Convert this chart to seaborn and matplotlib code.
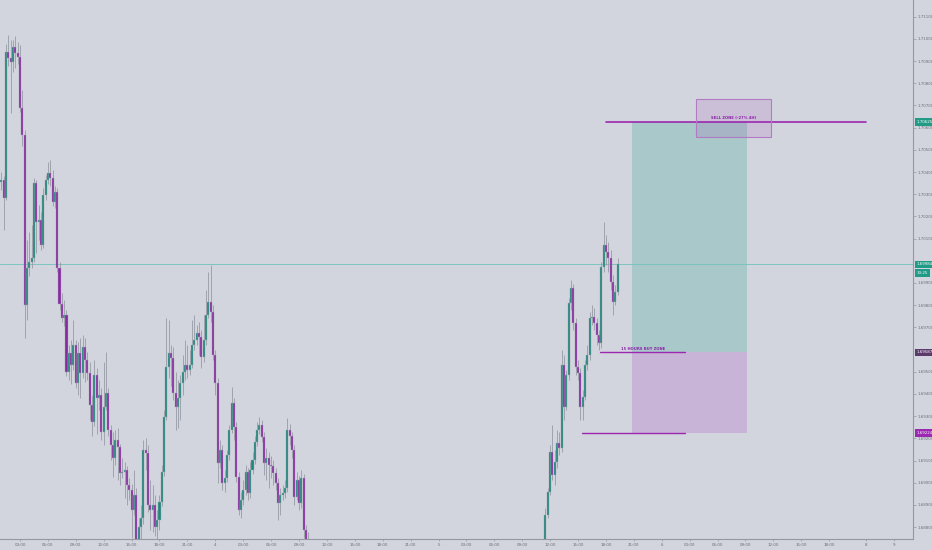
import numpy as np
import pandas as pd
import matplotlib
matplotlib.use("Agg")
import matplotlib.pyplot as plt
import seaborn as sns
from matplotlib.patches import Rectangle
from matplotlib.transforms import blended_transform_factory

# ---------------- data (15-minute candles, hours since day-3 00:00) ----------------
seg1_start_hour = 1.0
seg1_first_open = 1.70355
seg1_close = [
    1.70364, 1.70283, 1.70941, 1.70914, 1.70895, 1.70963, 1.70936, 1.70918, 1.70688, 1.70567,
    1.69801, 1.69968, 1.69995, 1.70013, 1.70350, 1.70175, 1.70184, 1.70071, 1.70296, 1.70364,
    1.70395, 1.70373, 1.70265, 1.70310, 1.69968, 1.69805, 1.69742, 1.69756, 1.69499, 1.69585,
    1.69531, 1.69621, 1.69450, 1.69585, 1.69495, 1.69612, 1.69553, 1.69495, 1.69350, 1.69274,
    1.69486, 1.69382, 1.69395, 1.69229, 1.69341, 1.69405, 1.69238, 1.69170, 1.69112, 1.69193,
    1.69161, 1.69044, 1.69049, 1.69058, 1.68990, 1.68968, 1.68877, 1.68945, 1.68742, 1.68801,
    1.68841, 1.69148, 1.69134, 1.68900, 1.68877, 1.68900, 1.68801, 1.68832, 1.68914, 1.69049,
    1.69296, 1.69522, 1.69585, 1.69562, 1.69405, 1.69341, 1.69382, 1.69450, 1.69499, 1.69531,
    1.69508, 1.69531, 1.69621, 1.69643, 1.69675, 1.69657, 1.69567, 1.69643, 1.69756, 1.69814,
    1.69769, 1.69576, 1.69450, 1.69089, 1.69148, 1.68999, 1.69022, 1.69125, 1.69238, 1.69359,
    1.69251, 1.69026, 1.68877, 1.68923, 1.68968, 1.69049, 1.68954, 1.69058, 1.69103, 1.69184,
    1.69238, 1.69260, 1.69206, 1.69089, 1.69112, 1.69080, 1.69076, 1.69044, 1.68999, 1.68909,
    1.68945, 1.68954, 1.68977, 1.69238, 1.69211, 1.69148, 1.68936, 1.69013, 1.68909, 1.69022,
    1.68787, 1.68742, 1.68706]
seg1_high = [
    1.70400, 1.70382, 1.70977, 1.71017, 1.70995, 1.70995, 1.71013, 1.70986, 1.70972, 1.70769,
    1.70589, 1.70094, 1.70130, 1.70161, 1.70373, 1.70364, 1.70251, 1.70220, 1.70328, 1.70386,
    1.70445, 1.70454, 1.70409, 1.70337, 1.70328, 1.69995, 1.69855, 1.69823, 1.69778, 1.69621,
    1.69643, 1.69733, 1.69643, 1.69634, 1.69652, 1.69666, 1.69652, 1.69589, 1.69544, 1.69395,
    1.69553, 1.69517, 1.69463, 1.69427, 1.69544, 1.69589, 1.69427, 1.69260, 1.69229, 1.69238,
    1.69247, 1.69175, 1.69112, 1.69094, 1.69076, 1.69022, 1.68995, 1.69058, 1.68977, 1.68841,
    1.68900, 1.69193, 1.69202, 1.69170, 1.69013, 1.68990, 1.68945, 1.68877, 1.68945, 1.69080,
    1.69328, 1.69742, 1.69733, 1.69621, 1.69612, 1.69499, 1.69463, 1.69486, 1.69576, 1.69643,
    1.69621, 1.69598, 1.69733, 1.69756, 1.69711, 1.69724, 1.69688, 1.69756, 1.69868, 1.69950,
    1.69981, 1.69801, 1.69598, 1.69472, 1.69193, 1.69170, 1.69058, 1.69148, 1.69260, 1.69432,
    1.69382, 1.69274, 1.69049, 1.68959, 1.69013, 1.69080, 1.69067, 1.69094, 1.69139, 1.69211,
    1.69274, 1.69296, 1.69283, 1.69229, 1.69157, 1.69139, 1.69121, 1.69103, 1.69067, 1.69022,
    1.68977, 1.68990, 1.69013, 1.69292, 1.69265, 1.69229, 1.69170, 1.69049, 1.69031, 1.69058,
    1.69040, 1.68810, 1.68778]
seg1_low = [
    1.70319, 1.70139, 1.70274, 1.70877, 1.70666, 1.70850, 1.70868, 1.70886, 1.70670, 1.70517,
    1.69652, 1.69733, 1.69932, 1.69968, 1.69995, 1.70035, 1.70094, 1.70049, 1.70058, 1.70274,
    1.70346, 1.70337, 1.70247, 1.70238, 1.69950, 1.69778, 1.69724, 1.69706, 1.69481, 1.69463,
    1.69445, 1.69508, 1.69427, 1.69395, 1.69382, 1.69472, 1.69454, 1.69463, 1.69283, 1.69211,
    1.69256, 1.69220, 1.69328, 1.69193, 1.69170, 1.69328, 1.69211, 1.69103, 1.69026, 1.69080,
    1.69013, 1.68990, 1.69022, 1.68932, 1.68900, 1.68923, 1.68751, 1.68855, 1.68720, 1.68706,
    1.68720, 1.68814, 1.69058, 1.68868, 1.68787, 1.68778, 1.68760, 1.68742, 1.68787, 1.68895,
    1.69031, 1.69283, 1.69472, 1.69436, 1.69373, 1.69238, 1.69247, 1.69283, 1.69395, 1.69463,
    1.69472, 1.69486, 1.69517, 1.69598, 1.69621, 1.69576, 1.69517, 1.69544, 1.69621, 1.69742,
    1.69724, 1.69553, 1.69395, 1.68999, 1.69067, 1.68968, 1.68959, 1.69004, 1.69103, 1.69224,
    1.69193, 1.69004, 1.68855, 1.68841, 1.68900, 1.68945, 1.68923, 1.68932, 1.69040, 1.69085,
    1.69166, 1.69220, 1.69184, 1.69035, 1.69013, 1.68977, 1.69022, 1.68990, 1.68968, 1.68832,
    1.68855, 1.68923, 1.68932, 1.68959, 1.69170, 1.69112, 1.68900, 1.68923, 1.68877, 1.68886,
    1.68751, 1.68706, 1.68652]

seg2_start_hour = 59.5
seg2_first_open = 1.68742
seg2_close = [
    1.68855, 1.68959, 1.69139, 1.69035, 1.69094, 1.69179, 1.69157, 1.69531, 1.69341, 1.69486,
    1.69810, 1.69877, 1.69720, 1.69522, 1.69495, 1.69341, 1.69386, 1.69531, 1.69576, 1.69742,
    1.69747, 1.69720, 1.69666, 1.69630, 1.69972, 1.70071, 1.70040, 1.70013, 1.69905, 1.69814,
    1.69859, 1.69984]
seg2_high = [
    1.68886, 1.68977, 1.69170, 1.69260, 1.69148, 1.69238, 1.69229, 1.69598, 1.69576, 1.69508,
    1.69832, 1.69914, 1.69895, 1.69742, 1.69553, 1.69517, 1.69418, 1.69553, 1.69621, 1.69769,
    1.69801, 1.69787, 1.69742, 1.69688, 1.69995, 1.70175, 1.70116, 1.70085, 1.70049, 1.69936,
    1.69891, 1.70013]
seg2_low = [
    1.68706, 1.68841, 1.68945, 1.69013, 1.68990, 1.69067, 1.69125, 1.69139, 1.69283, 1.69328,
    1.69463, 1.69778, 1.69688, 1.69486, 1.69463, 1.69283, 1.69283, 1.69373, 1.69508, 1.69553,
    1.69711, 1.69688, 1.69621, 1.69598, 1.69607, 1.69950, 1.69981, 1.69950, 1.69868, 1.69756,
    1.69801, 1.69846]

# trade setup levels
sell_zone_price = 1.70625
buy_zone_price = 1.69587
stop_price = 1.69224
sell_label = "SELL ZONE (-27% 4H)"
buy_label = "15 HOURS BUY ZONE"
countdown = "33:25"

# x-axis ticks (hours since day-3 00:00)
tick_hours = [3, 6, 9, 12, 15, 18, 21, 24, 27, 30, 33, 36, 39, 42, 45, 48,
              51, 54, 57, 60, 63, 66, 69, 72, 75, 78, 81, 84, 87, 90, 94, 97]
tick_labels = ["03:00", "06:00", "09:00", "12:00", "15:00", "18:00", "21:00", "4",
               "03:00", "06:00", "09:00", "12:00", "15:00", "18:00", "21:00", "5",
               "03:00", "06:00", "09:00", "12:00", "15:00", "18:00", "21:00", "6",
               "03:00", "06:00", "09:00", "12:00", "15:00", "18:00", "8", "9"]
# price grid labels (1.70000 and 1.69600 sit under the price tags on the axis)
price_ticks = [1.688, 1.689, 1.690, 1.691, 1.692, 1.693, 1.694, 1.695, 1.697,
               1.698, 1.699, 1.701, 1.702, 1.703, 1.704, 1.705, 1.706, 1.707,
               1.708, 1.709, 1.710, 1.711]

# ---------------- build frame ----------------
def make_seg(start, first_open, close, high, low):
    n = len(close)
    return pd.DataFrame({
        "hour": start + 0.25 * np.arange(n),
        "open": [first_open] + close[:-1],
        "close": close, "high": high, "low": low})

df = pd.concat([make_seg(seg1_start_hour, seg1_first_open, seg1_close, seg1_high, seg1_low),
                make_seg(seg2_start_hour, seg2_first_open, seg2_close, seg2_high, seg2_low)],
               ignore_index=True)

# ---------------- style ----------------
BG = "#d2d5dd"
TEAL = "#1c887c"
PURPLE = "#8a27a3"
WICK = "#979ba5"
LINE_PURPLE = "#9c27b0"
AXIS = "#9598a1"
TXT = "#6b6e78"

sns.set_theme(style="white")
plt.rcParams["font.family"] = ["DejaVu Sans"]

fig = plt.figure(figsize=(9.32, 5.5), dpi=100, facecolor=BG)
ax = fig.add_axes([0.0, 11 / 550, 913 / 932, 539 / 550])
ax.set_facecolor(BG)

# trade zones
x0, x1 = 68.8, 81.2
ax.add_patch(Rectangle((x0, buy_zone_price), x1 - x0, sell_zone_price - buy_zone_price,
                       facecolor="#a8c8c9", edgecolor="none", zorder=1))
ax.add_patch(Rectangle((x0, stop_price), x1 - x0, buy_zone_price - stop_price,
                       facecolor="#c8b4d6", edgecolor="none", zorder=1))

# candles
up = df["close"] >= df["open"]
colors = np.where(up, TEAL, PURPLE)
ax.vlines(df["hour"], df["low"], df["high"], color=WICK, linewidth=0.6, zorder=2)
body = (df["close"] - df["open"]).to_numpy()
body = np.where(np.abs(body) < 0.00003, 0.00003, body)
ax.bar(df["hour"], body, bottom=df["open"], width=0.22, color=colors,
       edgecolor="#a4a7b0", linewidth=0.3, zorder=3)

# current price line
last_price = seg2_close[-1]
ax.axhline(last_price, color="#7cc4bf", linewidth=0.7, zorder=1.5)

# sell zone
ax.plot([66.0, 94.0], [sell_zone_price, sell_zone_price], color=LINE_PURPLE, lw=1.2, zorder=4)
ax.add_patch(Rectangle((75.7, 1.70558), 8.05, 0.00171, facecolor=LINE_PURPLE, alpha=0.12,
                       edgecolor="none", zorder=4))
ax.add_patch(Rectangle((75.7, 1.70558), 8.05, 0.00171, facecolor="none",
                       edgecolor="#b27cc4", lw=0.8, zorder=4))
ax.text(79.7, sell_zone_price + 0.00008, sell_label, fontsize=2.7, color="#8e24aa",
        ha="center", va="bottom", fontweight="bold", zorder=5)

# buy zone / stop lines
ax.plot([65.4, 74.5], [buy_zone_price, buy_zone_price], color=LINE_PURPLE, lw=1.0, zorder=4)
ax.text(70.0, buy_zone_price + 0.00008, buy_label, fontsize=2.7, color="#8e24aa",
        ha="center", va="bottom", fontweight="bold", zorder=5)
ax.plot([63.4, 74.5], [stop_price, stop_price], color=LINE_PURPLE, lw=1.0, zorder=4)

# axes
ax.set_xlim(0.85, 99.02)
ax.set_ylim(1.687468, 1.711748)
ax.set_xticks(tick_hours)
ax.set_xticklabels(tick_labels)
ax.set_yticks(price_ticks)
ax.set_yticklabels([f"{p:.5f}" for p in price_ticks])
ax.yaxis.tick_right()
ax.tick_params(axis="y", which="both", right=True, left=False, length=2.0, width=0.5,
               color=AXIS, labelsize=2.9, labelcolor=TXT, pad=1.2)
ax.tick_params(axis="x", which="both", bottom=True, length=1.5, width=0.5, color=AXIS,
               labelsize=2.9, labelcolor=TXT, pad=1.2)
for s in ["top", "left"]:
    ax.spines[s].set_visible(False)
for s in ["right", "bottom"]:
    ax.spines[s].set_color(AXIS)
    ax.spines[s].set_linewidth(0.8)
ax.grid(False)

# price labels on axis
tr = blended_transform_factory(ax.transAxes, ax.transData)
def axis_label(price, text, fc, yoff=0.0):
    ax.text(1.004, price + yoff, text, transform=tr, fontsize=2.9, color="white",
            ha="left", va="center", zorder=6, clip_on=False,
            bbox=dict(boxstyle="square,pad=0.45", facecolor=fc, edgecolor="none"))

axis_label(sell_zone_price, f"{sell_zone_price:.5f}", "#1f9b86")
axis_label(last_price, f"{last_price:.5f}", "#1f9b86")
axis_label(last_price, countdown, "#1f9b86", yoff=-0.00040)
axis_label(buy_zone_price, f"{buy_zone_price:.5f}", "#5c3a6b")
axis_label(stop_price, f"{stop_price:.5f}", "#9c27b0")

fig.savefig("out.png", dpi=100, facecolor=BG)
